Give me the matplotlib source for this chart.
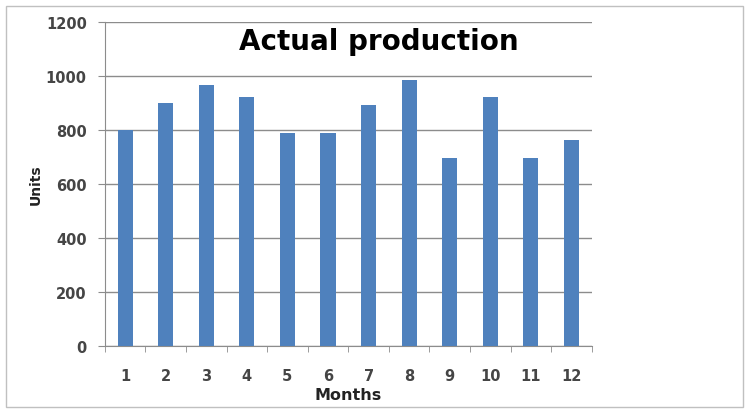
import matplotlib
matplotlib.use('Agg')

import numpy as np
import matplotlib.pyplot as plt
from matplotlib.patches import Rectangle

# data
months = [1, 2, 3, 4, 5, 6, 7, 8, 9, 10, 11, 12]
units = [800, 901, 967, 921, 790, 787, 891, 986, 697, 921, 697, 762]
y_ticks = [0, 200, 400, 600, 800, 1000, 1200]

BAR_COLOR = '#4f81bd'
GRID_COLOR = '#8c8c8c'
TEXT_COLOR = '#454545'

plt.rcParams['font.family'] = ['DejaVu Sans']

fig = plt.figure(figsize=(7.49, 4.10), dpi=100)
fig.patch.set_facecolor('white')

# outer chart frame like the spreadsheet chart box
fig.patches.append(Rectangle((0.008, 0.004), 0.984, 0.979, transform=fig.transFigure,
                             fill=False, edgecolor='#c0c0c0', linewidth=1.0))

ax = fig.add_axes([0.140, 0.154, 0.650, 0.790])

x = np.arange(len(months))
ax.bar(x, units, width=0.37, color=BAR_COLOR, zorder=3)

# axes limits / ticks
ax.set_xlim(-0.5, len(months) - 0.5)
ax.set_ylim(0, 1200)
ax.set_yticks(y_ticks)
ax.set_xticks(x)
ax.set_xticklabels([str(m) for m in months])
ax.set_xticks(np.arange(len(months) + 1) - 0.5, minor=True)

ax.tick_params(axis='x', which='major', length=0, pad=16, labelsize=10.5, colors=TEXT_COLOR)
ax.tick_params(axis='x', which='minor', length=4, direction='out', color=GRID_COLOR)
ax.tick_params(axis='y', length=5, direction='out', color=GRID_COLOR, pad=8,
               labelsize=10.5, labelcolor=TEXT_COLOR)
for lbl in ax.get_xticklabels() + ax.get_yticklabels():
    lbl.set_fontweight('bold')

# gridlines
ax.yaxis.grid(True, color=GRID_COLOR, linewidth=1.0, zorder=0)
ax.set_axisbelow(True)

# spines
ax.spines['top'].set_visible(False)
ax.spines['right'].set_visible(False)
ax.spines['left'].set_color(GRID_COLOR)
ax.spines['bottom'].set_color(GRID_COLOR)

# titles
ax.text(0.563, 0.917, 'Actual production', transform=ax.transAxes, ha='center', va='baseline',
        fontsize=20, fontweight='bold', color='black')
ax.set_xlabel('Months', fontsize=11.5, fontweight='bold', color='#222222', labelpad=3)
ax.set_ylabel('Units', fontsize=10, fontweight='bold', color='#222222', labelpad=2)

plt.savefig('out.png', dpi=100, facecolor='white')
plt.close('all')
